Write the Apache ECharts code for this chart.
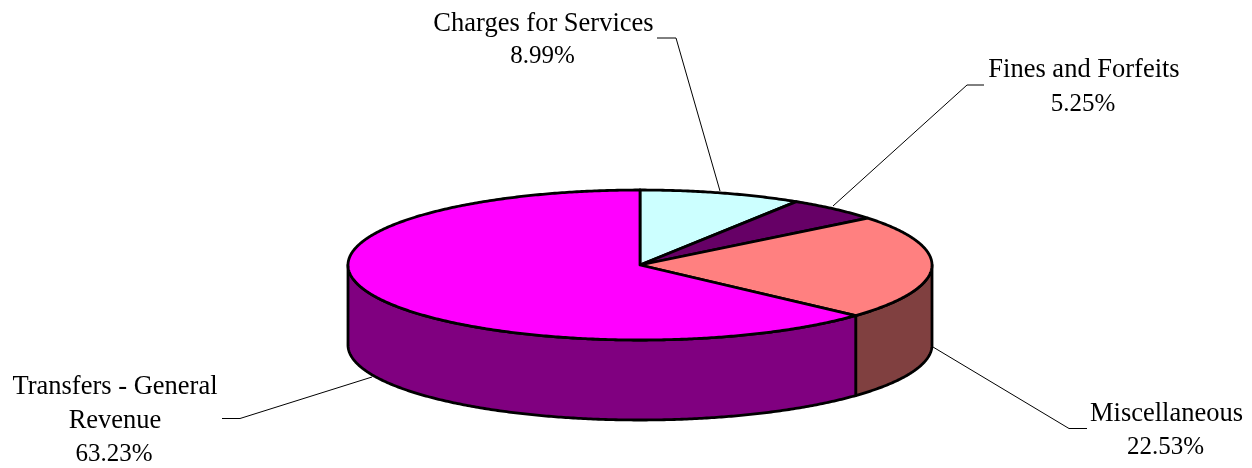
<!DOCTYPE html>
<html>
<head>
<meta charset="utf-8">
<style>
  html, body { margin: 0; padding: 0; background: #fff; }
  #main { width: 1252px; height: 468px; }
</style>
<script src="https://cdn.jsdelivr.net/npm/echarts@6/dist/echarts.min.js"></script>
</head>
<body>
<div id="main"></div>
<script>
var categories = ['Charges for Services', 'Fines and Forfeits', 'Miscellaneous', 'Transfers - General\nRevenue'];
var shares = [8.99, 5.25, 22.53, 63.23];
var topColors = ['#CCFFFF', '#660066', '#FF8080', '#FF00FF'];
var sideColors = ['#669999', '#330033', '#804040', '#800080'];

// layout of the flattened pie
var cx = 640, cy = 265, rx = 292, ry = 75, depth = 80;
// label centre x and the y of each text row (last row is the percent)
var labelX = [543.5, 1084, 1166.5, 115];
var labelRows = [[24, 56], [70.5, 104.5], [414, 447.5], [387.5, 421, 454.5]];
var leaders = [
    [[657, 38], [676, 38], [720, 191]],
    [[984, 85], [967, 85], [833, 206]],
    [[933, 347], [1069, 428.5], [1087, 428.5]],
    [[222, 418.5], [240, 418.5], [372, 377]]
];

var total = shares.reduce(function (a, b) { return a + b; }, 0);

function point(deg, drop) {
    var r = deg * Math.PI / 180;
    return [cx + rx * Math.sin(r), cy - ry * Math.cos(r) + (drop || 0)];
}

function arc(from, to, drop) {
    var pts = [];
    var n = Math.max(1, Math.ceil((to - from) * 2));
    for (var i = 0; i <= n; i++) {
        pts.push(point(from + (to - from) * i / n, drop));
    }
    return pts;
}

function textRow(x, y, text, size) {
    return {
        type: 'text',
        style: {
            x: x,
            y: y,
            text: text,
            fill: '#000',
            font: size + 'px "Liberation Serif"',
            align: 'center',
            verticalAlign: 'middle'
        }
    };
}

var lineStyle = { stroke: '#000', lineWidth: 2.8, lineJoin: 'round' };

function renderSlice(params, api) {
    var idx = params.dataIndex;
    var before = 0;
    for (var i = 0; i < idx; i++) {
        before += shares[i];
    }
    var a1 = before / total * 360;
    var a2 = (before + api.value(0)) / total * 360;
    var children = [];

    // side wall, only the front half of the rim shows
    var w1 = Math.max(a1, 90), w2 = Math.min(a2, 270);
    if (w2 > w1) {
        children.push({
            type: 'polygon',
            shape: { points: arc(w1, w2, 0).concat(arc(w1, w2, depth).reverse()) },
            style: Object.assign({ fill: sideColors[idx] }, lineStyle)
        });
    }

    // top face
    children.push({
        type: 'polygon',
        shape: { points: [[cx, cy]].concat(arc(a1, a2, 0)) },
        style: Object.assign({ fill: topColors[idx] }, lineStyle)
    });

    // leader line
    children.push({
        type: 'polyline',
        shape: { points: leaders[idx] },
        style: { stroke: '#000', lineWidth: 1, fill: null }
    });

    // label rows
    var names = categories[idx].split('\n');
    var rows = labelRows[idx];
    names.forEach(function (name, n) {
        children.push(textRow(labelX[idx], rows[n], name, 26.5));
    });
    children.push(textRow(labelX[idx] - 1, rows[names.length], api.value(0).toFixed(2) + '%', 25));

    return { type: 'group', children: children };
}

var chart = echarts.init(document.getElementById('main'), null, { renderer: 'canvas' });
chart.setOption({
    animation: false,
    backgroundColor: '#fff',
    tooltip: { show: false },
    series: [{
        type: 'custom',
        coordinateSystem: 'none',
        silent: true,
        renderItem: renderSlice,
        data: shares.map(function (v) { return [v]; })
    }]
});
</script>
</body>
</html>
